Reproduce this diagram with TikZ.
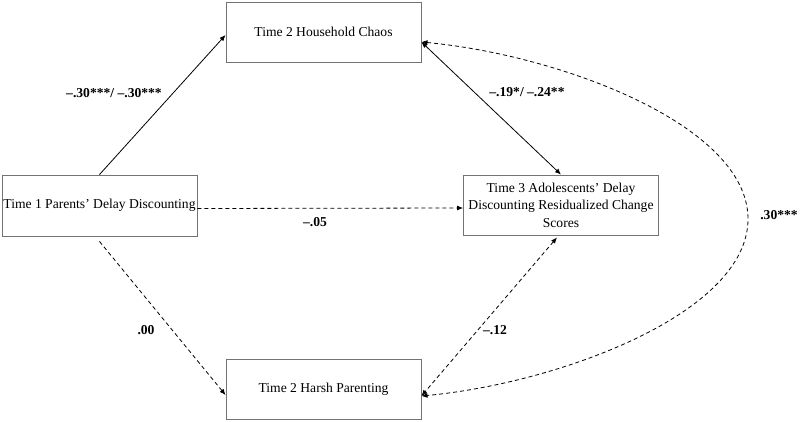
\documentclass[tikz,border=0pt]{standalone}
\usepackage{fontspec}
\setmainfont{Liberation Serif}
\usetikzlibrary{arrows.meta}
\begin{document}
\begin{tikzpicture}[x=1pt,y=-1pt,
  every node/.style={font=\fontsize{13.6pt}{17.4pt}\selectfont},
  box/.style={draw=black!55, line width=0.9pt, minimum width=195pt, minimum height=60pt, inner sep=0pt, align=center},
  lbl/.style={font=\fontsize{13.6pt}{17.4pt}\selectfont\bfseries, inner sep=0pt},
  conn/.style={line width=0.8pt, -{Latex[length=6pt,width=5pt]}},
  biconn/.style={line width=0.8pt, {Latex[length=6pt,width=5pt]}-{Latex[length=6pt,width=5pt]}},
  dsh/.style={dash pattern=on 4pt off 3pt}]
\useasboundingbox (0,0) rectangle (800,422);
\node[box] (chaos) at (323.5,32) {Time 2 Household Chaos};
\node[box, minimum height=61pt] (t1) at (99.5,205.5) {Time 1 Parents’ Delay Discounting};
\node[box] (t3) at (561,205) {Time 3 Adolescents’ Delay\\Discounting Residualized Change\\Scores};
\node[box] (harsh) at (323.5,389) {Time 2 Harsh Parenting};
\coordinate (cR) at ([yshift=-10pt]chaos.east);
\coordinate (hR) at ([yshift=-7pt]harsh.east);
\draw[conn] (t1.north) -- ([yshift=-3pt]chaos.west);
\draw[biconn] (cR) -- (t3.north);
\draw[conn, dsh] ([yshift=-3pt]t1.east) -- ([yshift=-3pt]t3.west);
\draw[conn, dsh] ([yshift=-5pt]t1.south) -- ([yshift=-6pt]harsh.west);
\draw[biconn, dsh] ([xshift=-4pt,yshift=-2pt]t3.south) -- (hR);
\draw[biconn, dsh] (cR) .. controls (560,55) and (748,125) .. (748,219)
  .. controls (748,313) and (560,383) .. (hR);
\node[lbl] (l1) at (114,93) {–.30***/ –.30***};
\node[lbl] (l2) at (527,92) {–.19*/ –.24**};
\node[lbl] (l3) at (315,222) {–.05};
\node[lbl] (l4) at (146,330) {.00};
\node[lbl] (l5) at (495,330) {–.12};
\node[lbl] (l6) at (779,215) {.30***};
\end{tikzpicture}
\end{document}
